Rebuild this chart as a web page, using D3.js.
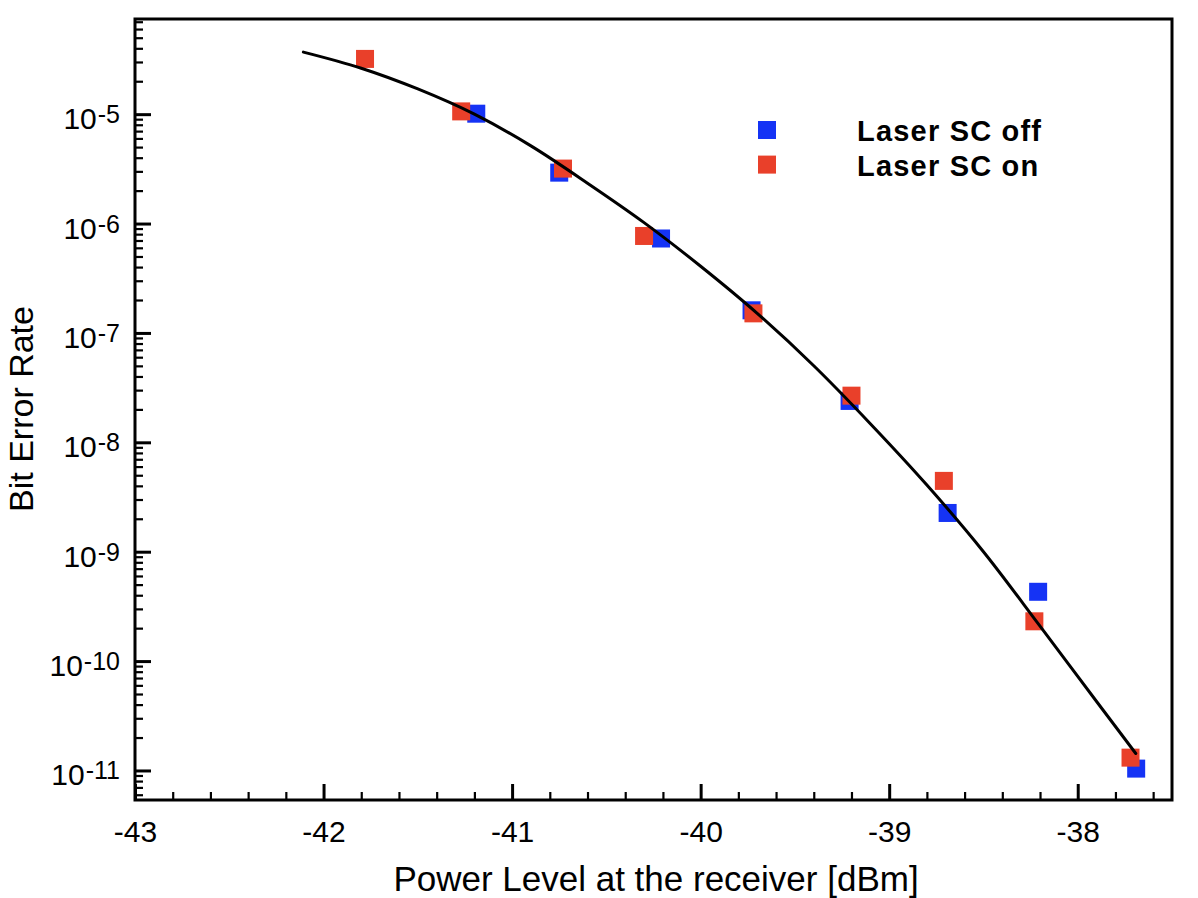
<!DOCTYPE html>
<html>
<head>
<meta charset="utf-8">
<script src="https://cdn.jsdelivr.net/npm/d3@7"></script>
<style>
  body { margin: 0; background: #fff; }
  text { font-family: "Liberation Sans", Arial, Helvetica, sans-serif; fill: #000; }
</style>
</head>
<body>
<svg id="chart"></svg>
<script>
// measured points, Laser SC off (blue) and on (red)
var powerOff = [-41.19, -40.75, -40.21, -39.73, -39.21, -38.69, -38.21, -37.69];
var berOff = [1.01e-5, 2.92e-6, 7.3e-7, 1.61e-7, 2.39e-8, 2.26e-9, 4.3e-10, 1.04e-11];
var powerOn = [-41.78, -41.27, -40.73, -40.30, -39.72, -39.20, -38.71, -38.23, -37.72];
var berOn = [3.2e-5, 1.06e-5, 3.18e-6, 7.7e-7, 1.51e-7, 2.67e-8, 4.44e-9, 2.31e-10, 1.31e-11];

// fitted curve
var fitPower = [-42.107, -41.8, -41.5, -41.2, -40.9, -40.6, -40.3, -40.0,
                -39.7, -39.4, -39.1, -38.8, -38.5, -38.2, -37.9, -37.692];
var fitBer = [3.69e-5, 2.63e-5, 1.70e-5, 1.00e-5, 5.13e-6, 2.34e-6, 1.02e-6, 4.07e-7,
              1.51e-7, 5.01e-8, 1.48e-8, 4.07e-9, 1.00e-9, 2.09e-10, 4.27e-11, 1.43e-11];

var seriesNames = ["Laser SC off", "Laser SC on"];
var seriesColors = ["#1533f5", "#e9402a"];

var xTicks = [-43, -42, -41, -40, -39, -38];
var yExponents = [-5, -6, -7, -8, -9, -10, -11];

var margin = {top: 19, right: 26, bottom: 98, left: 135},
    svgWidth = 1198,
    svgHeight = 898,
    width = svgWidth - margin.left - margin.right,
    height = svgHeight - margin.top - margin.bottom;

var svg = d3.select("#chart")
    .attr("width", svgWidth)
    .attr("height", svgHeight)
    .append("g")
    .attr("transform", "translate(" + margin.left + "," + margin.top + ")");

var x = d3.scaleLinear()
    .domain([-43, -37.5])
    .range([0, width]);

var y = d3.scaleLog()
    .domain([Math.pow(10, -11.27), Math.pow(10, -4.13)])
    .range([height, 0]);

// minor ticks
var xMinor = d3.range(-43, -37.5, 0.2).filter(function(v) {
    return Math.abs(v - Math.round(v)) > 0.01;
});
var yMinor = [];
for (var k = -12; k <= -5; k++) {
    for (var m = 2; m <= 9; m++) {
        var v = m * Math.pow(10, k);
        if (v > y.domain()[0] && v < y.domain()[1]) yMinor.push(v);
    }
}

// X axis (ticks point inward)
svg.append("g")
    .attr("transform", "translate(0," + height + ")")
    .call(d3.axisBottom(x).tickValues(xMinor).tickSize(-8).tickFormat(""))
    .call(function(g) { g.select(".domain").remove(); })
    .selectAll("line").attr("stroke-width", 2.2);

var xAxis = svg.append("g")
    .attr("transform", "translate(0," + height + ")")
    .call(d3.axisBottom(x).tickValues(xTicks).tickSize(-16).tickPadding(20.5)
        .tickFormat(function(d) { return d; }));
xAxis.select(".domain").remove();
xAxis.selectAll("line").attr("stroke-width", 3);
xAxis.selectAll("text")
    .style("font-size", "30px")
    .style("font-family", "'Liberation Sans', Arial, Helvetica, sans-serif")
    .attr("fill", "#000");

// Y axis
svg.append("g")
    .call(d3.axisLeft(y).tickValues(yMinor).tickSize(-8).tickFormat(""))
    .call(function(g) { g.select(".domain").remove(); })
    .selectAll("line").attr("stroke-width", 2.2);

svg.append("g")
    .call(d3.axisLeft(y).tickValues(yExponents.map(function(e) { return Math.pow(10, e); }))
        .tickSize(-16).tickFormat(""))
    .call(function(g) { g.select(".domain").remove(); })
    .selectAll("line").attr("stroke-width", 3);

var yLabels = svg.selectAll(".ylabel")
    .data(yExponents)
    .enter().append("text")
    .attr("class", "ylabel")
    .attr("x", -15)
    .attr("y", function(d) { return y(Math.pow(10, d)) + 15; })
    .attr("text-anchor", "end")
    .style("font-size", "30px");

yLabels.append("tspan").text("10");
yLabels.append("tspan")
    .attr("dy", -6)
    .attr("dx", 1)
    .style("font-size", "25px")
    .text(function(d) { return "-" + Math.abs(d); });

// frame
svg.append("rect")
    .attr("width", width)
    .attr("height", height)
    .attr("fill", "none")
    .attr("stroke", "#000")
    .attr("stroke-width", 3);

// markers
var sq = 18;
var offData = powerOff.map(function(p, i) { return {p: p, b: berOff[i]}; });
var onData = powerOn.map(function(p, i) { return {p: p, b: berOn[i]}; });

svg.selectAll(".off")
    .data(offData)
    .enter().append("rect")
    .attr("class", "off")
    .attr("x", function(d) { return x(d.p) - sq / 2; })
    .attr("y", function(d) { return y(d.b) - sq / 2; })
    .attr("width", sq)
    .attr("height", sq)
    .attr("fill", seriesColors[0]);

svg.selectAll(".on")
    .data(onData)
    .enter().append("rect")
    .attr("class", "on")
    .attr("x", function(d) { return x(d.p) - sq / 2; })
    .attr("y", function(d) { return y(d.b) - sq / 2; })
    .attr("width", sq)
    .attr("height", sq)
    .attr("fill", seriesColors[1]);

// fit line
var fitData = fitPower.map(function(p, i) { return {p: p, b: fitBer[i]}; });
var line = d3.line()
    .curve(d3.curveMonotoneX)
    .x(function(d) { return x(d.p); })
    .y(function(d) { return y(d.b); });

svg.append("path")
    .datum(fitData)
    .attr("fill", "none")
    .attr("stroke", "#000")
    .attr("stroke-width", 3)
    .attr("stroke-linecap", "round")
    .attr("d", line);

// legend
var legend = svg.selectAll(".legend")
    .data(seriesNames)
    .enter().append("g")
    .attr("class", "legend")
    .attr("transform", function(d, i) { return "translate(632," + (111 + i * 34.6) + ")"; });

legend.append("rect")
    .attr("x", -9)
    .attr("y", -9)
    .attr("width", sq)
    .attr("height", sq)
    .attr("fill", function(d, i) { return seriesColors[i]; });

legend.append("text")
    .attr("x", 90)
    .attr("y", 11)
    .style("font-size", "29px")
    .style("font-weight", "bold")
    .style("letter-spacing", "1.2px")
    .text(function(d) { return d; });

// axis titles
svg.append("text")
    .attr("x", 656 - margin.left)
    .attr("y", 891 - margin.top)
    .attr("text-anchor", "middle")
    .style("font-size", "35px")
    .text("Power Level at the receiver [dBm]");

svg.append("text")
    .attr("transform", "translate(" + (33 - margin.left) + "," + (409 - margin.top) + ") rotate(-90)")
    .attr("text-anchor", "middle")
    .style("font-size", "34px")
    .text("Bit Error Rate");
</script>
</body>
</html>
